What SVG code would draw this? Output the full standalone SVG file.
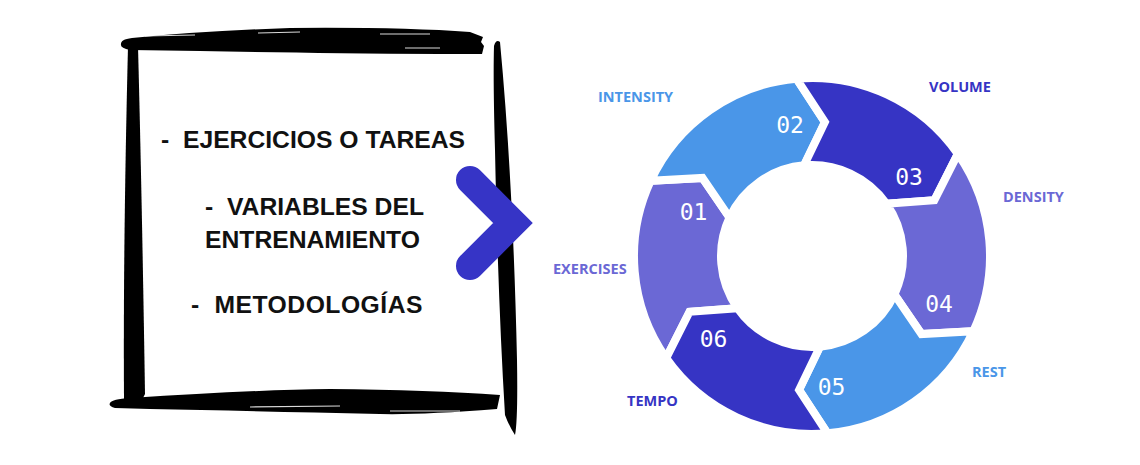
<svg xmlns="http://www.w3.org/2000/svg" width="1140" height="465" viewBox="0 0 1140 465">
<style>
.brush{fill:#000}
.streak{stroke:#fff;stroke-width:1.2;fill:none;opacity:0.85}
.main{font-family:"Liberation Sans",Arial,sans-serif;font-weight:bold;font-size:24.7px;fill:#111}
.seg{stroke:#fff;stroke-width:8;stroke-linejoin:miter}
.num{font-family:"DejaVu Sans Mono","Liberation Mono",monospace;font-size:23px;fill:#fff;text-anchor:middle}
.lbl{font-family:"Open Sans","Noto Sans",sans-serif;font-weight:bold;font-size:14.5px}
.lb{fill:#4A96E8}.dk{fill:#3634C4}.pu{fill:#6B68D5}
</style>
<rect width="1140" height="465" fill="#fff"/>
<g id="frame">
<path class="brush" d="M121 44 C121 41 124 39 132 38 Q200 31 290 28 Q400 27 470 32 L483 37 L481 42 L484 46 L482 54 L440 54 Q300 53 200 51 L130 50 Q120 48 121 44 Z"/>
<path class="brush" d="M128 46 L138 46 Q142 200 145 394 L142 400 L124 400 Q123 250 128 46 Z"/>
<path class="brush" d="M494 46 Q496 39 500 42 Q513 180 517 360 Q518 420 515 435 Q509 426 505 415 Q498 300 495 150 Q493 80 494 46 Z"/>
<path class="brush" d="M110 403 Q112 399 130 398 Q250 390 330 389 Q430 390 500 395 L497 409 Q420 415 380 414 Q250 411 150 409 L115 408 Q108 406 110 403 Z"/>
<path class="streak" d="M145 36 L195 35 M258 33 L300 32 M380 34 L430 34 M405 48 L440 48"/>
<path class="streak" d="M250 407 L340 406 M390 411 L460 411"/>
</g>
<g id="list">
<text class="main" x="161" y="148" xml:space="preserve">-  EJERCICIOS O TAREAS</text>
<text class="main" x="205" y="215" xml:space="preserve">-  VARIABLES DEL</text>
<text class="main" x="205" y="248">ENTRENAMIENTO</text>
<text class="main" x="191" y="313" letter-spacing="0.5" xml:space="preserve">-  METODOLOGÍAS</text>
</g>
<g id="connectors">
<path d="M470 180 L513 223 L470 266" fill="none" stroke="#3634C6" stroke-width="28" stroke-linecap="round" stroke-linejoin="miter"/>
</g>
<g id="cycle">
<g id="seg01">
<path class="seg pu" d="M666.19 358.10 A178 178 0 0 1 650.68 180.77 L702.50 177.90 L729.53 217.54 A91 91 0 0 0 737.46 308.20 L689.60 311.78 Z"/>
</g>
<g id="seg02">
<path class="seg lb" d="M650.68 180.77 A178 178 0 0 1 796.49 78.68 L824.89 122.12 L804.07 165.35 A91 91 0 0 0 729.53 217.54 L702.50 177.90 Z"/>
</g>
<g id="seg03">
<path class="seg dk" d="M796.49 78.68 A178 178 0 0 1 957.81 153.90 L934.40 200.22 L886.54 203.80 A91 91 0 0 0 804.07 165.35 L824.89 122.12 Z"/>
</g>
<g id="seg04">
<path class="seg pu" d="M957.81 153.90 A178 178 0 0 1 973.32 331.23 L921.50 334.10 L894.47 294.46 A91 91 0 0 0 886.54 203.80 L934.40 200.22 Z"/>
</g>
<g id="seg05">
<path class="seg lb" d="M973.32 331.23 A178 178 0 0 1 827.51 433.32 L799.11 389.88 L819.93 346.65 A91 91 0 0 0 894.47 294.46 L921.50 334.10 Z"/>
</g>
<g id="seg06">
<path class="seg dk" d="M827.51 433.32 A178 178 0 0 1 666.19 358.10 L689.60 311.78 L737.46 308.20 A91 91 0 0 0 819.93 346.65 L799.11 389.88 Z"/>
</g>
<g id="numbers">
<text class="num" x="693.5" y="220">01</text>
<text class="num" x="790" y="133">02</text>
<text class="num" x="909" y="185">03</text>
<text class="num" x="939" y="312">04</text>
<text class="num" x="831.5" y="395">05</text>
<text class="num" x="713.5" y="347">06</text>
</g>
</g>
<g id="labels">
<text class="lbl pu" x="553" y="274">EXERCISES</text>
<text class="lbl lb" x="598" y="102">INTENSITY</text>
<text class="lbl dk" x="929" y="92">VOLUME</text>
<text class="lbl pu" x="1003" y="202">DENSITY</text>
<text class="lbl lb" x="972" y="377">REST</text>
<text class="lbl dk" x="627" y="406">TEMPO</text>
</g>
</svg>
